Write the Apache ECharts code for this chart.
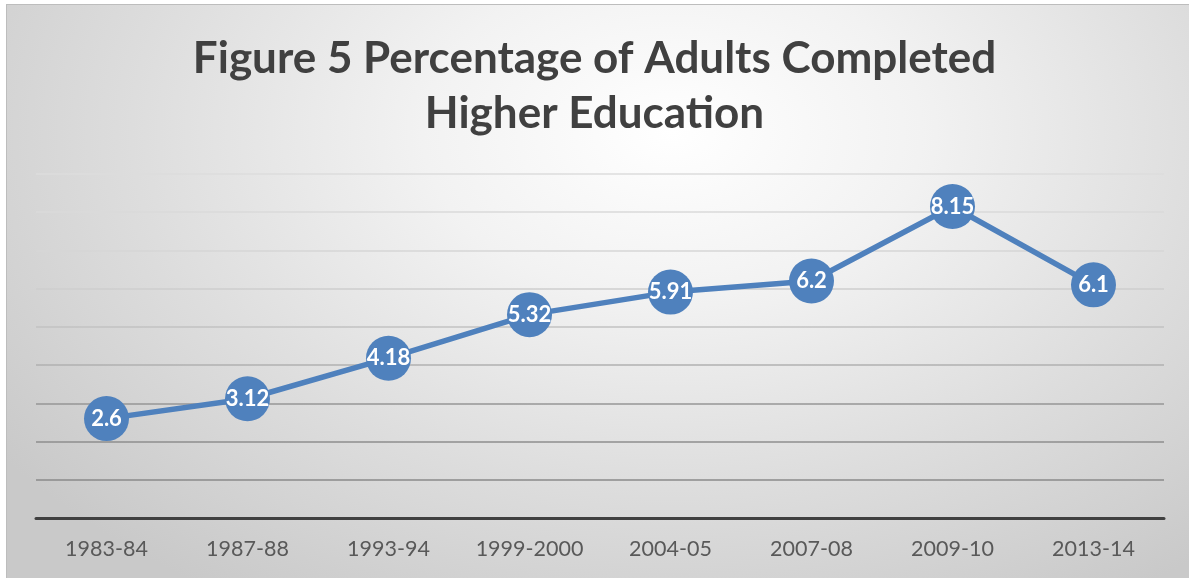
<!DOCTYPE html>
<html>
<head>
<meta charset="utf-8">
<script src="https://cdn.jsdelivr.net/npm/echarts@6/dist/echarts.min.js"></script>
<style>
  html, body { margin: 0; padding: 0; background: #ffffff; }
  #frame {
    position: absolute; left: 6px; top: 4px; width: 1190px; height: 580px;
    border: 1px solid #bdbdbd; box-sizing: border-box;
    background: radial-gradient(ellipse 70% 95% at 56% 22%, #ffffff 0%, #f2f2f2 30%, #dddddd 65%, #c9c9c9 100%);
  }
  #chart { position: absolute; left: 0; top: 0; width: 1189px; height: 578px; }
</style>
</head>
<body>
<div id="frame"></div>
<div id="chart"></div>
<script>
// Survey years and share of adults who completed higher education (%)
const periods = ['1983-84', '1987-88', '1993-94', '1999-2000', '2004-05', '2007-08', '2009-10', '2013-14'];
const completedPct = [2.6, 3.12, 4.18, 5.32, 5.91, 6.2, 8.15, 6.1];
const titleLines = ['Figure 5 Percentage of Adults Completed', 'Higher Education'];

// Gridlines fade from darker near the baseline to lighter near the top
const gridColors = ['#888888', '#8a8a8a', '#8e8e8e', '#969696', '#b0b0b0', '#c2c2c2', '#cecece', '#d6d6d6', '#dadada', '#dcdcdc'];

const chart = echarts.init(document.getElementById('chart'), null, { renderer: 'canvas' });
chart.setOption({
  backgroundColor: 'transparent',
  animation: false,
  title: {
    text: titleLines.join('\n'),
    left: 'center',
    top: 26,
    textStyle: {
      fontFamily: 'Lato',
      fontWeight: 'bold',
      fontSize: 44,
      lineHeight: 55,
      color: '#404040'
    }
  },
  grid: { left: 36, right: 25, top: 174, bottom: 60, containLabel: false },
  xAxis: {
    type: 'category',
    data: periods,
    boundaryGap: true,
    axisLine: { lineStyle: { color: '#404040', width: 3 } },
    axisTick: { show: false },
    axisLabel: {
      interval: 0,
      fontFamily: 'Lato',
      fontSize: 21.5,
      color: '#595959',
      margin: 20
    }
  },
  yAxis: {
    type: 'value',
    min: 0,
    max: 9,
    interval: 1,
    axisLine: { show: false },
    axisTick: { show: false },
    axisLabel: { show: false },
    splitLine: { lineStyle: { color: gridColors, width: 1.5 } }
  },
  series: [{
    type: 'line',
    data: completedPct,
    symbol: 'circle',
    symbolSize: 45,
    lineStyle: { color: '#4f81bd', width: 5.5 },
    itemStyle: { color: '#4f81bd' },
    label: {
      show: true,
      position: 'inside',
      color: '#ffffff',
      fontFamily: 'Lato',
      fontWeight: 'bold',
      fontSize: 22
    },
    z: 3
  }]
});
</script>
</body>
</html>
